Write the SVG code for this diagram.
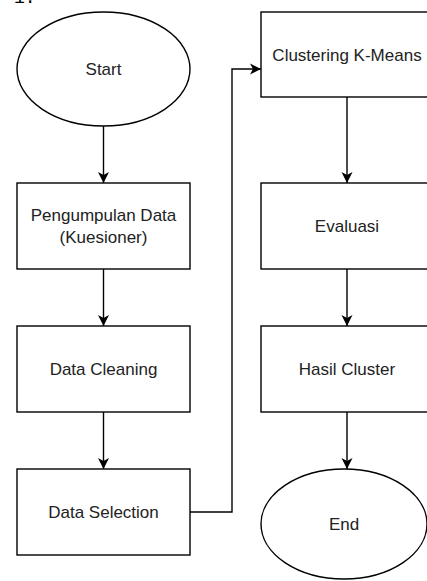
<svg xmlns="http://www.w3.org/2000/svg" width="427" height="581" viewBox="0 0 427 581">
<style>
.s{fill:#fff;stroke:#000;stroke-width:1.4}
.t{font-family:"Liberation Sans",Arial,sans-serif;font-size:17px;fill:#222;text-anchor:middle}
.c{fill:none;stroke:#000;stroke-width:1.4}
</style>
<defs>
<marker id="a" markerUnits="userSpaceOnUse" markerWidth="12" markerHeight="12" viewBox="0 0 12 12" refX="11" refY="6" orient="auto">
<path d="M0,0.5 L11,6 L0,11.5 L3,6 Z" fill="#000"/>
</marker>
</defs>
<text x="14" y="3" font-family="Liberation Mono,monospace" font-size="18" fill="#000">1.</text>
<g id="connectors">
<path class="c" d="M103.5,126 V183" marker-end="url(#a)"/>
<path class="c" d="M103.5,269 V326" marker-end="url(#a)"/>
<path class="c" d="M103.5,412 V469" marker-end="url(#a)"/>
<path class="c" d="M190,512 H232 V69 H261" marker-end="url(#a)"/>
<path class="c" d="M347,97 V183" marker-end="url(#a)"/>
<path class="c" d="M347,269 V326" marker-end="url(#a)"/>
<path class="c" d="M347,412 V469" marker-end="url(#a)"/>
</g>
<g id="start">
<ellipse class="s" cx="103.5" cy="69" rx="86.5" ry="57"/>
<text class="t" x="103.5" y="75">Start</text>
</g>
<g id="pengumpulan">
<rect class="s" x="17" y="183" width="173" height="86"/>
<text class="t" x="103.5" y="221">Pengumpulan Data</text>
<text class="t" x="103.5" y="243">(Kuesioner)</text>
</g>
<g id="cleaning">
<rect class="s" x="17" y="326" width="173" height="86"/>
<text class="t" x="103.5" y="375">Data Cleaning</text>
</g>
<g id="selection">
<rect class="s" x="17" y="469" width="173" height="86"/>
<text class="t" x="103.5" y="518">Data Selection</text>
</g>
<g id="kmeans">
<rect class="s" x="261" y="12" width="172" height="85"/>
<text class="t" x="347" y="60.5">Clustering K-Means</text>
</g>
<g id="evaluasi">
<rect class="s" x="261" y="183" width="172" height="86"/>
<text class="t" x="347" y="232">Evaluasi</text>
</g>
<g id="hasil">
<rect class="s" x="261" y="326" width="172" height="86"/>
<text class="t" x="347" y="375">Hasil Cluster</text>
</g>
<g id="end">
<ellipse class="s" cx="344" cy="524" rx="83" ry="55"/>
<text class="t" x="344" y="530">End</text>
</g>
</svg>
